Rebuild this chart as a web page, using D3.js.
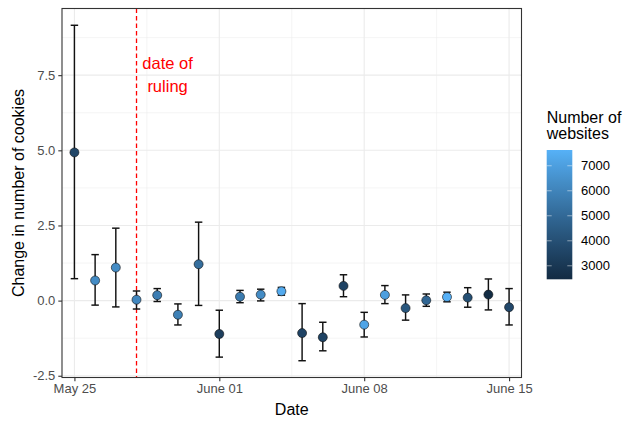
<!DOCTYPE html>
<html>
<head>
<meta charset="utf-8">
<script src="https://cdn.jsdelivr.net/npm/d3@7"></script>
<style>
  html, body { margin: 0; padding: 0; background: #fff; }
  svg { display: block; font-family: "Liberation Sans", Arial, sans-serif; }
</style>
</head>
<body>
<svg id="chart" width="625" height="421"></svg>
<script>
// ---- data ----
const dates = ["2018-05-25","2018-05-26","2018-05-27","2018-05-28","2018-05-29","2018-05-30","2018-05-31",
  "2018-06-01","2018-06-02","2018-06-03","2018-06-04","2018-06-05","2018-06-06","2018-06-07",
  "2018-06-08","2018-06-09","2018-06-10","2018-06-11","2018-06-12","2018-06-13","2018-06-14","2018-06-15"];
const means = [4.93, 0.67, 1.10, 0.03, 0.18, -0.47, 1.21, -1.11, 0.13, 0.20, 0.31, -1.08, -1.22, 0.49,
  -0.80, 0.19, -0.25, 0.01, 0.12, 0.10, 0.20, -0.22];
const upper = [9.16, 1.53, 2.41, 0.32, 0.40, -0.11, 2.61, -0.32, 0.34, 0.38, 0.44, -0.10, -0.72, 0.86,
  -0.39, 0.50, 0.19, 0.22, 0.28, 0.43, 0.72, 0.40];
const lower = [0.73, -0.15, -0.21, -0.28, -0.03, -0.81, -0.16, -1.88, -0.07, -0.01, 0.18, -2.00, -1.67, 0.13,
  -1.21, -0.10, -0.65, -0.19, -0.04, -0.22, -0.31, -0.81];
const websites = [3600, 6300, 6300, 6100, 5800, 5900, 5200, 3300, 5700, 6300, 7400, 3500, 3500, 3500,
  7200, 7000, 4300, 4900, 7600, 4000, 2500, 3700];
const xTickLabels = ["2018-05-25", "2018-06-01", "2018-06-08", "2018-06-15"];
const yTicks = [-2.5, 0, 2.5, 5, 7.5];
const legendTicks = [3000, 4000, 5000, 6000, 7000];
const colorRange = [2460, 7630];
const rulingDate = "2018-05-28";
const rulingLabel = ["date of", "ruling"];

// ---- layout ----
const svg = d3.select("#chart");
const P = { left: 62, right: 521.5, top: 8.5, bottom: 377.5 };
const parse = d3.utcParse("%Y-%m-%d");
const rows = dates.map((d, i) => ({ date: parse(d), mean: means[i], hi: upper[i], lo: lower[i], n: websites[i] }));

const DAY = 864e5;
const x = d3.scaleUtc()
  .domain([new Date(+parse(dates[0]) - 0.6 * DAY), new Date(+parse(dates[dates.length - 1]) + 0.6 * DAY)])
  .range([P.left, P.right]);
const yMin = d3.min(lower), yMax = d3.max(upper), pad = (yMax - yMin) * 0.05;
const y = d3.scaleLinear().domain([yMin - pad, yMax + pad]).range([P.bottom, P.top]);
const color = d3.scaleLinear().domain(colorRange).range(["#132B43", "#56B1F7"]).interpolate(d3.interpolateLab);

// grid
const g = svg.append("g");
const minorY = d3.range(-1.25, 9.5, 2.5);
g.selectAll(".ymin").data(minorY).join("line")
  .attr("x1", P.left).attr("x2", P.right).attr("y1", d => y(d)).attr("y2", d => y(d))
  .attr("stroke", "#EBEBEB").attr("stroke-width", 0.55);
const xt = xTickLabels.map(parse);
const minorX = d3.range(xt.length - 1).map(i => new Date((+xt[i] + +xt[i + 1]) / 2));
g.selectAll(".xmin").data(minorX).join("line")
  .attr("y1", P.top).attr("y2", P.bottom).attr("x1", d => x(d)).attr("x2", d => x(d))
  .attr("stroke", "#EBEBEB").attr("stroke-width", 0.55);
g.selectAll(".ymaj").data(yTicks).join("line")
  .attr("x1", P.left).attr("x2", P.right).attr("y1", d => y(d)).attr("y2", d => y(d))
  .attr("stroke", "#EBEBEB").attr("stroke-width", 1.1);
g.selectAll(".xmaj").data(xt).join("line")
  .attr("y1", P.top).attr("y2", P.bottom).attr("x1", d => x(d)).attr("x2", d => x(d))
  .attr("stroke", "#EBEBEB").attr("stroke-width", 1.1);

// ruling line
svg.append("line")
  .attr("x1", x(parse(rulingDate))).attr("x2", x(parse(rulingDate)))
  .attr("y1", P.top).attr("y2", P.bottom)
  .attr("stroke", "#FF0000").attr("stroke-width", 1.3).attr("stroke-dasharray", "4.5,3");

// annotation
const annX = new Date(+parse(rulingDate) + 1.5 * DAY);
svg.append("text").attr("x", x(annX)).attr("y", y(7.72)).attr("text-anchor", "middle")
  .attr("fill", "#FF0000").attr("font-size", 16.5).text(rulingLabel[0]);
svg.append("text").attr("x", x(annX)).attr("y", y(6.93)).attr("text-anchor", "middle")
  .attr("fill", "#FF0000").attr("font-size", 16.5).text(rulingLabel[1]);

// error bars
const capHalf = 0.18 * DAY;
const eb = svg.append("g").attr("stroke", "#111").attr("stroke-width", 1.45).attr("fill", "none");
rows.forEach(r => {
  eb.append("line").attr("x1", x(r.date)).attr("x2", x(r.date)).attr("y1", y(r.lo)).attr("y2", y(r.hi));
  eb.append("line").attr("x1", x(new Date(+r.date - capHalf))).attr("x2", x(new Date(+r.date + capHalf)))
    .attr("y1", y(r.hi)).attr("y2", y(r.hi));
  eb.append("line").attr("x1", x(new Date(+r.date - capHalf))).attr("x2", x(new Date(+r.date + capHalf)))
    .attr("y1", y(r.lo)).attr("y2", y(r.lo));
});

// points
svg.append("g").selectAll("circle").data(rows).join("circle")
  .attr("cx", d => x(d.date)).attr("cy", d => y(d.mean)).attr("r", 4.5)
  .attr("fill", d => color(d.n)).attr("stroke", "#111").attr("stroke-width", 0.6);

// panel border
svg.append("rect").attr("x", P.left).attr("y", P.top)
  .attr("width", P.right - P.left).attr("height", P.bottom - P.top)
  .attr("fill", "none").attr("stroke", "#333333").attr("stroke-width", 1.1);

// axes
const fmt = d3.utcFormat("%B %d");
const xAxis = svg.append("g").attr("transform", `translate(0,${P.bottom})`)
  .call(d3.axisBottom(x).tickValues(xt).tickFormat(fmt).tickSize(3.7).tickSizeOuter(0).tickPadding(3));
xAxis.select(".domain").remove();
xAxis.selectAll("line").attr("stroke", "#333333").attr("stroke-width", 1.1);
xAxis.selectAll("text").attr("fill", "#4D4D4D").attr("font-size", 13).attr("font-family", "Liberation Sans, Arial, sans-serif");

const yfmt = d => d.toFixed(1);
const yAxis = svg.append("g").attr("transform", `translate(${P.left},0)`)
  .call(d3.axisLeft(y).tickValues(yTicks).tickFormat(yfmt).tickSize(3.7).tickSizeOuter(0).tickPadding(3));
yAxis.select(".domain").remove();
yAxis.selectAll("line").attr("stroke", "#333333").attr("stroke-width", 1.1);
yAxis.selectAll("text").attr("fill", "#4D4D4D").attr("font-size", 13).attr("font-family", "Liberation Sans, Arial, sans-serif");

// axis titles
svg.append("text").attr("x", (P.left + P.right) / 2).attr("y", 415).attr("text-anchor", "middle")
  .attr("font-size", 16).attr("fill", "#000").text("Date");
svg.append("text").attr("transform", `translate(24,${(P.top + P.bottom) / 2}) rotate(-90)`)
  .attr("text-anchor", "middle").attr("font-size", 16).attr("fill", "#000").text("Change in number of cookies");

// legend
const L = { x: 546.7, w: 25.6, top: 150, bottom: 279.3 };
const defs = svg.append("defs");
const grad = defs.append("linearGradient").attr("id", "lg").attr("x1", 0).attr("x2", 0).attr("y1", 1).attr("y2", 0);
d3.range(0, 1.0001, 0.05).forEach(t => {
  grad.append("stop").attr("offset", t).attr("stop-color", color(colorRange[0] + t * (colorRange[1] - colorRange[0])));
});
svg.append("text").attr("x", L.x).attr("y", 122.5).attr("font-size", 16).attr("fill", "#000").text("Number of");
svg.append("text").attr("x", L.x).attr("y", 138.5).attr("font-size", 16).attr("fill", "#000").text("websites");
svg.append("rect").attr("x", L.x).attr("y", L.top).attr("width", L.w).attr("height", L.bottom - L.top).attr("fill", "url(#lg)");
const ly = d3.scaleLinear().domain(colorRange).range([L.bottom, L.top]);
const lt = svg.append("g");
legendTicks.forEach(v => {
  lt.append("line").attr("x1", L.x).attr("x2", L.x + 5).attr("y1", ly(v)).attr("y2", ly(v)).attr("stroke", "#fff").attr("stroke-opacity", 0.6).attr("stroke-width", 0.8);
  lt.append("line").attr("x1", L.x + L.w - 5).attr("x2", L.x + L.w).attr("y1", ly(v)).attr("y2", ly(v)).attr("stroke", "#fff").attr("stroke-opacity", 0.6).attr("stroke-width", 0.8);
  lt.append("text").attr("x", 581).attr("y", ly(v)).attr("dy", "0.35em").attr("font-size", 13).attr("fill", "#000").text(v);
});
</script>
</body>
</html>
